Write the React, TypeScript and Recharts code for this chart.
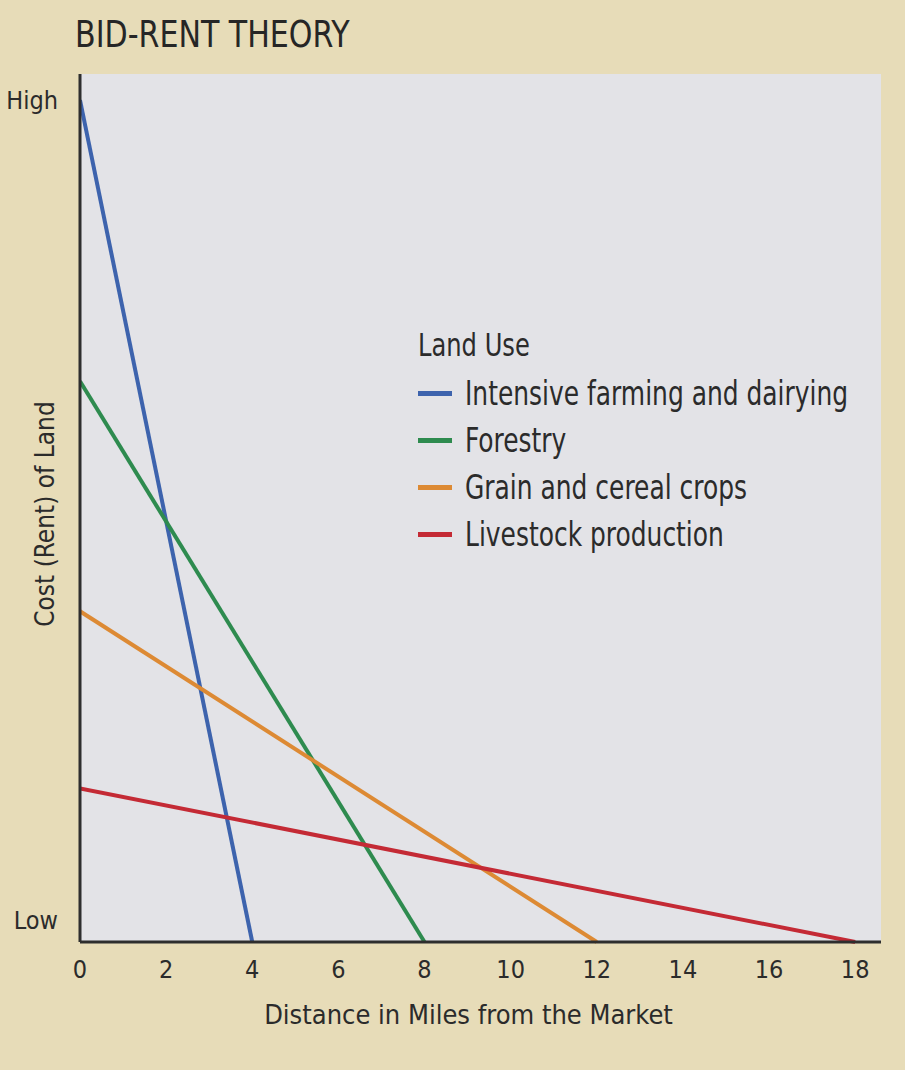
import React from "react";
import { CartesianGrid, Legend, Line, LineChart, XAxis, YAxis } from "recharts";

const FONT = "'Liberation Sans Narrow', 'DejaVu Sans Condensed', 'Roboto', sans-serif";

const distanceTicks = [0, 2, 4, 6, 8, 10, 12, 14, 16, 18];
const rentTicks = [2.5, 97];
const rentTickLabels = ["Low", "High"];

const landUses = [
  "Intensive farming and dairying",
  "Forestry",
  "Grain and cereal crops",
  "Livestock production",
];

// each land use: rent at the market (0 miles) falling to nothing at its limit
const intensiveFarming = [
  { mile: 0, rent: 97 },
  { mile: 4, rent: 0 },
];
const forestry = [
  { mile: 0, rent: 64.6 },
  { mile: 8, rent: 0 },
];
const grainCrops = [
  { mile: 0, rent: 38.1 },
  { mile: 12, rent: 0 },
];
const livestock = [
  { mile: 0, rent: 17.7 },
  { mile: 18, rent: 0 },
];

const colors = ["#3d63ad", "#2e8b4f", "#dd8a34", "#c42a35"];

function LegendBox(props: any) {
  // keep the book's order, recharts sorts the payload by name
  const items = [...(props.payload || [])].sort(
    (a: any, b: any) => landUses.indexOf(a.value) - landUses.indexOf(b.value)
  );
  const narrow = {
    display: "inline-block",
    transform: "scaleX(0.84)",
    transformOrigin: "left center",
    whiteSpace: "nowrap" as const,
  };
  return (
    <div style={{ fontFamily: FONT, color: "#2b2b2b", whiteSpace: "nowrap" }}>
      <div style={{ fontSize: 32, marginBottom: 6, lineHeight: "38px" }}>
        <span style={narrow}>Land Use</span>
      </div>
      {items.map((it: any) => (
        <div
          key={it.value}
          style={{ display: "flex", alignItems: "center", height: 47, fontSize: 33 }}
        >
          <span
            style={{
              display: "inline-block",
              flex: "0 0 34px",
              height: 5,
              background: it.color,
              marginRight: 13,
            }}
          />
          <span style={narrow}>{it.value}</span>
        </div>
      ))}
    </div>
  );
}

export default function App() {
  return (
    <div
      style={{
        position: "absolute",
        left: 0,
        top: 0,
        width: 905,
        height: 1070,
        background: "#e7dcb8",
        overflow: "hidden",
      }}
    >
      <div
        style={{
          position: "absolute",
          left: 75,
          top: 12,
          fontFamily: FONT,
          fontSize: 38,
          color: "#262626",
          transform: "scaleX(0.88)",
          transformOrigin: "left top",
          whiteSpace: "nowrap",
        }}
      >
        BID-RENT THEORY
      </div>
      <LineChart
        width={905}
        height={1070}
        margin={{ top: 74, right: 24, left: 0, bottom: 68 }}
      >
        <CartesianGrid fill="#e3e3e7" horizontal={false} vertical={false} />
        <XAxis
          type="number"
          dataKey="mile"
          domain={[0, 18.6]}
          ticks={distanceTicks}
          allowDataOverflow
          height={60}
          tickSize={0}
          tickMargin={18}
          axisLine={{ stroke: "#2e2e2e", strokeWidth: 3 }}
          tick={{ fontSize: 25, fill: "#2b2b2b", fontFamily: FONT }}
          label={{
            content: (p: any) => {
              const vb = p.viewBox;
              return (
                <text
                  x={vb.x + vb.width / 2 - 12}
                  y={vb.y + 82}
                  textAnchor="middle"
                  fontSize={27}
                  fontFamily={FONT}
                  fill="#2b2b2b"
                >
                  Distance in Miles from the Market
                </text>
              );
            },
          }}
        />
        <YAxis
          type="number"
          dataKey="rent"
          domain={[0, 100]}
          ticks={rentTicks}
          tickFormatter={(v: number) => rentTickLabels[rentTicks.indexOf(v)] || ""}
          width={80}
          tickSize={0}
          tickMargin={22}
          axisLine={{ stroke: "#2e2e2e", strokeWidth: 3 }}
          tick={{ fontSize: 25, fill: "#2b2b2b", fontFamily: FONT }}
          label={{
            content: (p: any) => {
              const vb = p.viewBox;
              const cx = vb.x + 45;
              const cy = vb.y + vb.height / 2 + 6;
              return (
                <text
                  x={cx}
                  y={cy}
                  transform={`rotate(-90, ${cx}, ${cy})`}
                  textAnchor="middle"
                  dominantBaseline="central"
                  fontSize={26}
                  fontFamily={FONT}
                  fill="#2b2b2b"
                >
                  Cost (Rent) of Land
                </text>
              );
            },
          }}
        />
        <Legend
          layout="vertical"
          align="center"
          verticalAlign="middle"
          content={LegendBox}
          wrapperStyle={{ top: 326, left: 418, width: "auto" }}
        />
        <Line
          data={intensiveFarming}
          dataKey="rent"
          name={landUses[0]}
          stroke={colors[0]}
          strokeWidth={4}
          dot={false}
          isAnimationActive={false}
        />
        <Line
          data={forestry}
          dataKey="rent"
          name={landUses[1]}
          stroke={colors[1]}
          strokeWidth={4}
          dot={false}
          isAnimationActive={false}
        />
        <Line
          data={grainCrops}
          dataKey="rent"
          name={landUses[2]}
          stroke={colors[2]}
          strokeWidth={4}
          dot={false}
          isAnimationActive={false}
        />
        <Line
          data={livestock}
          dataKey="rent"
          name={landUses[3]}
          stroke={colors[3]}
          strokeWidth={4}
          dot={false}
          isAnimationActive={false}
        />
      </LineChart>
    </div>
  );
}
